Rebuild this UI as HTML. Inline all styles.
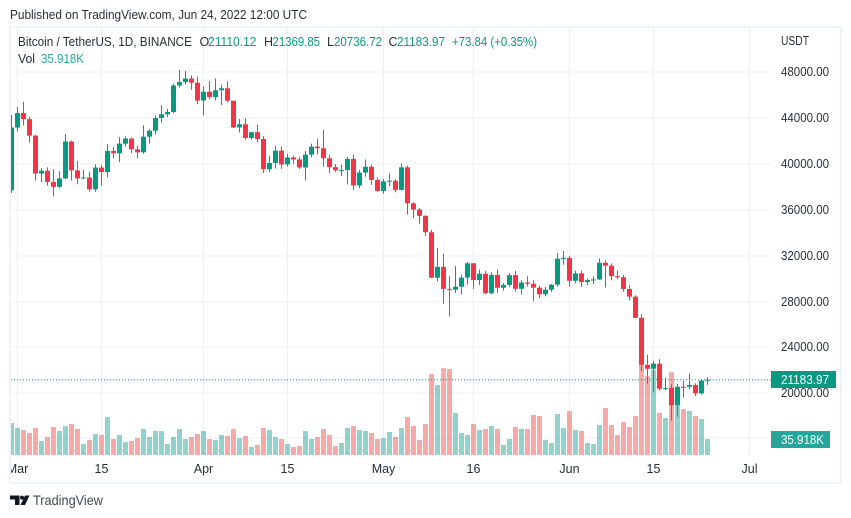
<!DOCTYPE html>
<html lang="en">
<head>
<meta charset="utf-8">
<title>BTCUSDT chart</title>
<style>
html,body{margin:0;padding:0;background:#fff;width:851px;height:518px;overflow:hidden}
svg{display:block;font-family:"Liberation Sans",sans-serif}
text{font-size:12.5px;fill:#2a2e39}
</style>
</head>
<body>
<svg id="chart" width="851" height="518" viewBox="0 0 851 518" xmlns="http://www.w3.org/2000/svg">
  <defs><clipPath id="pane-clip"><rect x="11" y="28" width="760" height="427"/></clipPath>
  <clipPath id="time-clip"><rect x="11" y="456" width="760" height="26"/></clipPath></defs>
  <text x="10" y="19" textLength="297" lengthAdjust="spacingAndGlyphs">Published on TradingView.com, Jun 24, 2022 12:00 UTC</text>
  <rect x="10" y="27" width="831" height="456" fill="#fff" stroke="#f0f3fa" stroke-width="2"/>
  <g id="grid"></g>
  <g id="volumes" clip-path="url(#pane-clip)"></g>
  <line id="last-line" x1="11" x2="771" stroke="#089981" stroke-width="1" stroke-dasharray="1 2"/>
  <g id="candles" clip-path="url(#pane-clip)"></g>
  <g id="legend">
    <text x="18" y="46" textLength="174" lengthAdjust="spacingAndGlyphs">Bitcoin / TetherUS, 1D, BINANCE</text>
    <text x="199.5" y="46">O</text>
    <text x="208" y="46" textLength="48.5" lengthAdjust="spacingAndGlyphs" style="fill:#089981">21110.12</text>
    <text x="264" y="46">H</text>
    <text x="272.5" y="46" textLength="47.5" lengthAdjust="spacingAndGlyphs" style="fill:#089981">21369.85</text>
    <text x="327" y="46">L</text>
    <text x="334" y="46" textLength="48" lengthAdjust="spacingAndGlyphs" style="fill:#089981">20736.72</text>
    <text x="388.5" y="46">C</text>
    <text x="397" y="46" textLength="48" lengthAdjust="spacingAndGlyphs" style="fill:#089981">21183.97</text>
    <text x="452" y="46" textLength="85" lengthAdjust="spacingAndGlyphs" style="fill:#089981">+73.84 (+0.35%)</text>
    <text x="18" y="63" textLength="17" lengthAdjust="spacingAndGlyphs">Vol</text>
    <text x="41" y="63" textLength="43" lengthAdjust="spacingAndGlyphs" style="fill:#26a69a">35.918K</text>
  </g>
  <text x="781" y="45" textLength="28" lengthAdjust="spacingAndGlyphs">USDT</text>
  <g id="price-axis"></g>
  <g id="time-axis" clip-path="url(#time-clip)"></g>
  <g id="tags"></g>
  <g>
    <path d="M10 495.5H19.5V505H15V499.5H10Z M25 495.5H29.5L25 505H20.5Z" fill="#131722"/>
    <circle cx="22" cy="497.6" r="2" fill="#131722"/>
    <text x="33" y="505" textLength="70" lengthAdjust="spacingAndGlyphs" style="font-size:13.5px;fill:#434651">TradingView</text>
  </g>
</svg>
<script>
const categories = ["02-28","03-01","03-02","03-03","03-04","03-05","03-06","03-07","03-08","03-09","03-10","03-11","03-12","03-13","03-14","03-15","03-16","03-17","03-18","03-19","03-20","03-21","03-22","03-23","03-24","03-25","03-26","03-27","03-28","03-29","03-30","03-31",
"04-01","04-02","04-03","04-04","04-05","04-06","04-07","04-08","04-09","04-10","04-11","04-12","04-13","04-14","04-15","04-16","04-17","04-18","04-19","04-20","04-21","04-22","04-23","04-24","04-25","04-26","04-27","04-28","04-29","04-30",
"05-01","05-02","05-03","05-04","05-05","05-06","05-07","05-08","05-09","05-10","05-11","05-12","05-13","05-14","05-15","05-16","05-17","05-18","05-19","05-20","05-21","05-22","05-23","05-24","05-25","05-26","05-27","05-28","05-29","05-30","05-31",
"06-01","06-02","06-03","06-04","06-05","06-06","06-07","06-08","06-09","06-10","06-11","06-12","06-13","06-14","06-15","06-16","06-17","06-18","06-19","06-20","06-21","06-22","06-23","06-24"];
const opens = [37699,43160,44421,43892,42454,39148,39397,38420,37988,38730,41941,39422,38729,38807,37777,39671,39280,41114,40917,41757,42201,41262,41002,42364,42882,43991,44313,44511,46827,47122,47434,47067,
45510,46283,45811,46407,46580,45497,43170,43444,42252,42753,42158,39530,40074,41147,39942,40551,40378,39678,40801,41493,41358,40480,39709,39441,39450,40426,38112,39235,39742,38596,
37630,38468,38525,37729,39690,36552,36014,35468,34038,30074,31017,29103,29030,29287,30086,31329,29874,30425,28715,30319,29201,29445,30293,29109,29655,29542,29201,28629,29031,29468,31734,
31801,29805,30452,29700,29864,29920,31373,31125,30204,30109,29091,28424,26574,22485,22136,22583,20401,20468,18970,20574,20573,20720,19987,21110];
const highs = [44256,44949,45400,44101,42527,39613,39693,39547,39362,42594,42039,40236,39486,39310,39947,39887,41718,41478,42325,42400,42296,41544,43361,43025,44220,45094,44792,46999,48189,48096,47700,47600,
46720,47213,47444,46890,47200,45507,43900,43970,42800,43410,42414,40699,41561,41500,40870,40709,40595,41116,41760,42199,42976,40795,39980,39940,40617,40797,39474,40372,39925,38795,
38675,39167,38651,40023,39845,36675,36146,35509,34243,32658,32162,30243,31083,30343,31460,31329,30788,30663,30545,30777,29600,30487,30670,29832,30200,29856,29376,29266,29531,32222,32399,
31982,30689,30699,29999,30189,31765,31589,31327,30700,30324,29440,28544,26895,23362,22800,22980,21365,20792,20815,21090,21723,20872,21233,21369];
const lows = [37450,42809,43334,41832,38550,38407,38088,37155,37867,38656,38539,38223,38660,37578,37555,38098,38828,40500,40135,41499,40911,40467,40875,41751,42560,43579,44071,44421,46663,46950,46445,45200,
44200,45620,45530,45118,45353,43121,42727,42107,42125,41868,39200,39254,39588,39551,39766,39991,39546,38536,40571,40820,39751,39177,39285,38929,38200,37702,37881,38881,38175,37578,
37386,38052,37511,37670,35571,35258,34785,33713,30033,29730,27785,26700,28751,28630,29480,29087,29450,28654,28630,28730,28947,29255,28866,28627,29311,28019,28282,28450,28839,29299,31200,
29301,29594,29282,29447,29516,29890,29218,29843,29944,28850,28099,26560,21925,20846,20111,20232,20246,17622,17960,19637,20348,19770,19890,20736];
const closes = [43160,44421,43892,42454,39148,39397,38420,37988,38730,41941,39422,38729,38807,37777,39671,39280,41114,40917,41757,42201,41262,41002,42364,42882,43991,44313,44511,46827,47122,47434,47067,45510,
46283,45811,46407,46580,45497,43170,43444,42252,42753,42158,39530,40074,41147,39942,40551,40378,39678,40801,41493,41358,40480,39709,39441,39450,40426,38112,39235,39742,38596,37630,
38468,38525,37729,39690,36552,36014,35468,34038,30076,31017,29103,29030,29287,30086,31329,29874,30425,28715,30319,29201,29445,30293,29109,29655,29542,29201,28629,29031,29468,31734,31801,
29805,30452,29700,29864,29920,31373,31125,30204,30109,29091,28424,26574,22487,22136,22583,20401,20468,18970,20574,20573,20720,19987,21110,21183.97];
const volumes = [71.8,60.6,56,49.4,60.6,31.4,40.4,62.9,53.9,65,69.6,58.4,24.7,33.7,47,44.9,85.3,35.9,44.9,29,31.4,38,58.4,40.4,53.9,53.9,24.7,40.4,58.4,35.9,40.4,47,
53.9,35.9,33.7,44.9,42.7,58.4,38,42.7,18,22.5,60.6,56,40.4,35.9,24.7,18,20,53.9,35.9,40.4,58.4,44.9,20,27,60.6,65,56,53.9,49.4,35.9,
38,51.6,40.4,60.6,85.3,65,33.7,69.6,182,157,195,193,94.3,49.4,44.9,69.6,56,58.4,65,58.4,22.5,35.9,62.9,58.4,58.4,89.8,87.6,33.7,27,92,60.6,
98.8,56,53.9,27,24.7,67.4,105.5,67.4,44.9,74,62.9,87.6,202,177,191,94.3,83,186,112,103,98.8,87.6,80.8,35.918];
const priceTicks = [48000,44000,40000,36000,32000,28000,24000,20000];
const timeTickLabels = ["Mar","15","Apr","15","May","16","Jun","15","Jul"];
const timeTickDates = ["03-01","03-15","04-01","04-15","05-01","05-16","06-01","06-15","07-01"];

const NS = "http://www.w3.org/2000/svg";
const X_ZERO = 11.5, STEP = 6, BODY = 5;
const Y_48K = 72, PX_PER_USD = 321.3 / 28000;
const VOL_BASE = 455, PX_PER_KVOL = 16 / 35.918;
const UP = "#089981", DOWN = "#f23645";
const GRID = "#edf0f6";

function dayIndex(mmdd) {
  const parts = mmdd.split("-").map(Number);
  const startOfMonth = {2: -28, 3: 0, 4: 31, 5: 61, 6: 92, 7: 122};
  return startOfMonth[parts[0]] + parts[1];
}
function xOfDay(d) { return X_ZERO + STEP * d; }
function yOfPrice(p) { return Y_48K + (48000 - p) * PX_PER_USD; }
function hOfVolume(v) { return v * PX_PER_KVOL; }
function node(tag, parent) {
  const el = document.createElementNS(NS, tag);
  parent.appendChild(el);
  return el;
}
function rect(parent, x, y, w, h, fill) {
  const el = node("rect", parent);
  el.setAttribute("x", x);
  el.setAttribute("y", y);
  el.setAttribute("width", w);
  el.setAttribute("height", h);
  el.setAttribute("fill", fill);
  return el;
}

const gridG = document.getElementById("grid");
const volG = document.getElementById("volumes");
const candleG = document.getElementById("candles");
const priceG = document.getElementById("price-axis");
const timeG = document.getElementById("time-axis");
const tagG = document.getElementById("tags");

priceTicks.forEach(function (p) {
  const y = Math.round(yOfPrice(p));
  const line = rect(gridG, 11, y - 0.5, 760, 1, GRID);
  
  
  const label = node("text", priceG);
  
  
  label.setAttribute("x", 781);
  label.setAttribute("y", y + 4);
  label.setAttribute("textLength", 48);
  label.setAttribute("lengthAdjust", "spacingAndGlyphs");
  label.textContent = p.toFixed(2);
});
const volGrid = rect(gridG, 11, VOL_BASE - 17.5, 760, 1, GRID);



timeTickDates.forEach(function (date, i) {
  const x = xOfDay(dayIndex(date));
  const line = rect(gridG, x - 0.5, 28, 1, 427, GRID);
  
  
  const label = node("text", timeG);
  
  
  label.setAttribute("x", x);
  label.setAttribute("y", 473);
  label.setAttribute("text-anchor", "middle");
  label.textContent = timeTickLabels[i];
});

categories.forEach(function (date, i) {
  const x = xOfDay(dayIndex(date));
  const up = closes[i] >= opens[i];
  const vh = hOfVolume(volumes[i]);
  const bar = rect(volG, x - BODY / 2, VOL_BASE - vh, BODY, vh, up ? "rgba(38,166,154,0.5)" : "rgba(239,83,80,0.5)");
  
  
  const wick = rect(candleG, x - 0.5, yOfPrice(highs[i]), 1, yOfPrice(lows[i]) - yOfPrice(highs[i]), up ? UP : DOWN);
  
  
  const top = yOfPrice(Math.max(opens[i], closes[i]));
  const bottom = yOfPrice(Math.min(opens[i], closes[i]));
  const body = rect(candleG, x - BODY / 2, top, BODY, Math.max(bottom - top, 1), up ? UP : DOWN);
  
  
});

const lastClose = closes[closes.length - 1];
const lastVolume = volumes[volumes.length - 1];
const lastY = yOfPrice(lastClose);
const lastLine = document.getElementById("last-line");
lastLine.setAttribute("y1", lastY);
lastLine.setAttribute("y2", lastY);

const priceTag = rect(tagG, 771, Math.round(lastY) - 9, 65, 17, UP);


const priceTagText = node("text", tagG);


priceTagText.setAttribute("x", 781);
priceTagText.setAttribute("y", Math.round(lastY) + 4);
priceTagText.setAttribute("textLength", 48);
priceTagText.setAttribute("lengthAdjust", "spacingAndGlyphs");
priceTagText.setAttribute("style", "fill:#fff");
priceTagText.textContent = lastClose.toFixed(2);

const volTop = Math.round(VOL_BASE - hOfVolume(lastVolume));
const volTag = rect(tagG, 771, volTop - 8, 59, 17, "#26a69a");


const volTagText = node("text", tagG);


volTagText.setAttribute("x", 781);
volTagText.setAttribute("y", volTop + 5);
volTagText.setAttribute("textLength", 43);
volTagText.setAttribute("lengthAdjust", "spacingAndGlyphs");
volTagText.setAttribute("style", "fill:#fff");
volTagText.textContent = lastVolume.toFixed(3) + "K";
</script>
</body>
</html>
